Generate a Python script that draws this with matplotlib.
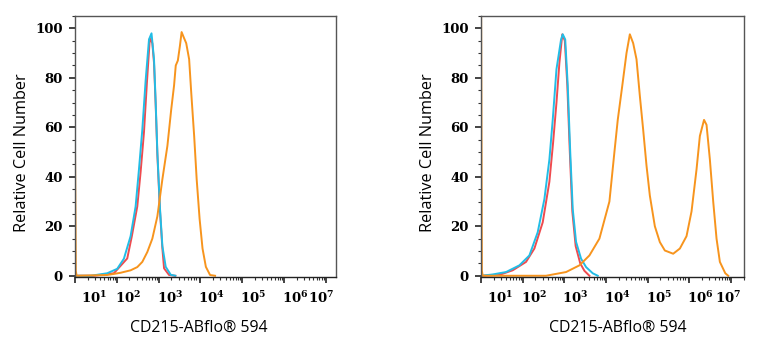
import numpy as np
import matplotlib.pyplot as plt
from matplotlib.ticker import MultipleLocator, LogLocator, NullFormatter

plt.rcParams['mathtext.fontset'] = 'dejavuserif'

# x values are log10 of CD215-ABflo 594 intensity, y is relative cell number
# left panel
l_blue_x = [1.0, 1.38, 1.77, 2.01, 2.17, 2.33, 2.45, 2.53, 2.61, 2.69, 2.77, 2.83,
            2.89, 2.93, 2.97, 3.03, 3.09, 3.17, 3.29, 3.40]
l_blue_y = [0, 0, 1.0, 2.8, 6.9, 16, 28, 43, 59, 79, 95.5, 98,
            87.5, 70, 50, 28, 12, 3.6, 0.4, 0]
l_red_x = [1.0, 1.45, 1.93, 2.25, 2.36, 2.49, 2.57, 2.65, 2.72, 2.79, 2.85,
           2.89, 2.93, 2.97, 3.03, 3.09, 3.13, 3.25, 3.40]
l_red_y = [0, 0, 1.0, 7, 16, 28, 42, 58, 78, 96, 94,
           86, 69, 49, 27, 11, 3, 0.3, 0]
l_orange_x = [1.0, 1.02, 1.04, 1.77, 2.09, 2.33, 2.49, 2.61, 2.73, 2.85, 2.97, 3.09,
              3.21, 3.30, 3.37, 3.41, 3.46, 3.51, 3.55, 3.61, 3.66, 3.73, 3.78,
              3.85, 3.91, 3.98, 4.05, 4.13, 4.23, 4.35]
l_orange_y = [55, 2, 0, 0.3, 1.2, 2.2, 3.5, 5.6, 9.6, 15, 24, 39,
              52.5, 67, 77, 85, 87, 93, 98.5, 96, 94, 87.5, 74,
              56.5, 39, 23, 11, 3.6, 0.3, 0]

# right panel
r_blue_x = [1.0, 1.27, 1.60, 1.92, 2.16, 2.36, 2.52, 2.64, 2.72, 2.81, 2.92, 2.96,
            3.02, 3.08, 3.14, 3.20, 3.28, 3.40, 3.52, 3.68, 3.80]
r_blue_y = [0, 0.5, 1.5, 4.2, 8.2, 17.6, 31, 47, 63, 83.5, 95.5, 97.6,
            95.5, 77, 50, 27, 13.7, 6.9, 3.5, 1, 0]
r_red_x = [1.0, 1.43, 1.76, 2.08, 2.28, 2.48, 2.64, 2.73, 2.81, 2.88, 2.95,
           3.01, 3.07, 3.13, 3.19, 3.27, 3.38, 3.48, 3.60]
r_red_y = [0, 0.3, 2.2, 5.6, 11, 21.6, 38, 54, 70, 86, 97.6,
           95, 77, 50, 26, 12, 5, 2, 0]
r_orange_x = [1.0, 1.02, 1.04, 2.56, 3.04, 3.36, 3.60, 3.84, 4.08, 4.20, 4.28, 4.39,
              4.49, 4.57, 4.65, 4.73, 4.81, 4.89, 4.97, 5.05, 5.17, 5.29, 5.41,
              5.61, 5.77, 5.93, 6.05, 6.17, 6.25, 6.35, 6.41, 6.49, 6.57, 6.65,
              6.73, 6.86, 6.93]
r_orange_y = [120, 2, 0, 0, 1.5, 4.2, 8.2, 15, 30, 50, 63, 77,
              90, 97.6, 94, 87.5, 72.7, 59, 44.5, 32.4, 20, 13.6, 10.2,
              8.9, 11, 16, 26, 43, 56.5, 63, 61, 47, 30, 15,
              5.6, 1, 0]

decades = [1, 2, 3, 4, 5, 6, 7]

c_red = '#ef4b4f'
c_blue = '#22bde6'
c_orange = '#f7941d'

fig = plt.figure(figsize=(7.58, 3.5), dpi=100)
ax1 = fig.add_axes([0.0989, 0.2086, 0.3443, 0.7457])
ax2 = fig.add_axes([0.6346, 0.2086, 0.3470, 0.7457])


def draw(ax, curves, xmax, lab_pos, xlab_x):
    for xs, ys, col in curves:
        ax.plot(10 ** np.array(xs), ys, color=col, lw=1.4)
    ax.set_xscale('log')
    ax.set_xlim(10, 10 ** xmax)
    ax.set_ylim(-0.5, 105)
    ax.set_yticks([0, 20, 40, 60, 80, 100])
    ax.yaxis.set_minor_locator(MultipleLocator(5))
    ax.set_xticks([10.0 ** k for k in decades])
    ax.xaxis.set_minor_locator(LogLocator(base=10, subs=np.arange(2, 10), numticks=20))
    ax.xaxis.set_major_formatter(NullFormatter())
    ax.xaxis.set_minor_formatter(NullFormatter())
    ax.tick_params(axis='both', which='major', direction='out', length=4, width=1.2, color='#222')
    ax.tick_params(axis='both', which='minor', direction='out', length=2, width=0.8, color='#333')
    ax.tick_params(axis='y', pad=5)
    for t in ax.get_yticklabels():
        t.set_fontfamily('DejaVu Serif')
        t.set_fontweight('bold')
        t.set_fontsize(9.5)
    for s in ax.spines.values():
        s.set_color('#555555')
        s.set_linewidth(1)
    ax.spines['bottom'].set_color('#222222')
    for k, p in zip(decades, lab_pos):
        ax.text(10 ** p, -0.05, r'$\mathbf{10^{%d}}$' % k, transform=ax.get_xaxis_transform(),
                ha='left', va='top', fontsize=9.5)
    ax.set_ylabel('Relative Cell Number', fontfamily='Open Sans', fontsize=11.7)
    ax.yaxis.set_label_coords(-0.172, 0.477)
    ax.set_xlabel('CD215-ABflo® 594', fontfamily='Open Sans', fontsize=11.4, va='center')
    ax.xaxis.set_label_coords(xlab_x, -0.195)


draw(ax1, [(l_red_x, l_red_y, c_red), (l_blue_x, l_blue_y, c_blue),
           (l_orange_x, l_orange_y, c_orange)],
     7.24, [1.14, 1.95, 2.95, 3.95, 4.95, 5.95, 6.57], 0.473)
draw(ax2, [(r_red_x, r_red_y, c_red), (r_blue_x, r_blue_y, c_blue),
           (r_orange_x, r_orange_y, c_orange)],
     7.31, [1.14, 1.95, 2.95, 3.95, 4.95, 5.95, 6.61], 0.521)

fig.savefig('out.png', dpi=100)
